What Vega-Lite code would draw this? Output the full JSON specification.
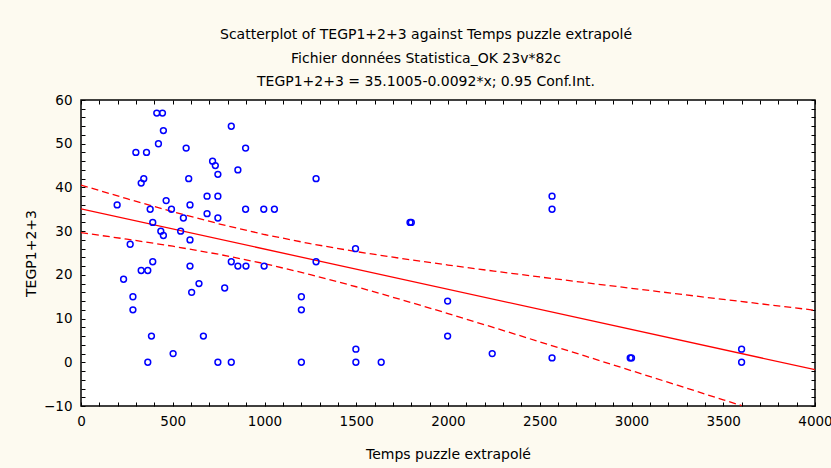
{
  "$schema": "https://vega.github.io/schema/vega-lite/v6.json",
  "width": 734,
  "height": 306,
  "autosize": "none",
  "padding": {"left": 81, "top": 100, "right": 16, "bottom": 62},
  "background": "#FDFAF0",
  "config": {
    "font": "DejaVu Sans",
    "view": {"fill": "white", "stroke": "black", "strokeWidth": 1.5},
    "axis": {"labelFont": "DejaVu Sans", "titleFont": "DejaVu Sans", "labelFontSize": 13.5, "titleFontSize": 14, "titleFontWeight": "normal", "labelColor": "black", "titleColor": "black", "domain": false, "tickColor": "black", "gridColor": "#D8D8D8", "gridWidth": 1.5}
  },
  "title": {
    "text": ["Scatterplot of TEGP1+2+3 against Temps puzzle extrapolé", "Fichier données Statistica_OK 23v*82c", "TEGP1+2+3 = 35.1005-0.0092*x; 0.95 Conf.Int."],
    "font": "DejaVu Sans",
    "fontSize": 14,
    "fontWeight": "normal",
    "color": "black",
    "lineHeight": 23.5,
    "anchor": "middle",
    "dx": -22,
    "offset": 4
  },
  "datasets": {
    "pts": [
      {"t": 413, "v": 57}, {"t": 444, "v": 57}, {"t": 449, "v": 53}, {"t": 819, "v": 54}, {"t": 422, "v": 50},
      {"t": 573, "v": 49}, {"t": 897, "v": 49}, {"t": 299, "v": 48}, {"t": 357, "v": 48}, {"t": 717, "v": 46},
      {"t": 732, "v": 45}, {"t": 855, "v": 44}, {"t": 746, "v": 43}, {"t": 342, "v": 42}, {"t": 328, "v": 41},
      {"t": 587, "v": 42}, {"t": 687, "v": 38}, {"t": 746, "v": 38}, {"t": 197, "v": 36}, {"t": 464, "v": 37},
      {"t": 594, "v": 36}, {"t": 377, "v": 35}, {"t": 493, "v": 35}, {"t": 897, "v": 35}, {"t": 996, "v": 35},
      {"t": 1054, "v": 35}, {"t": 391, "v": 32}, {"t": 687, "v": 34}, {"t": 746, "v": 33}, {"t": 558, "v": 33},
      {"t": 435, "v": 30}, {"t": 449, "v": 29}, {"t": 543, "v": 30}, {"t": 594, "v": 28}, {"t": 268, "v": 27},
      {"t": 391, "v": 23}, {"t": 328, "v": 21}, {"t": 364, "v": 21}, {"t": 232, "v": 19}, {"t": 283, "v": 15},
      {"t": 283, "v": 12}, {"t": 594, "v": 22}, {"t": 819, "v": 23}, {"t": 855, "v": 22}, {"t": 899, "v": 22},
      {"t": 998, "v": 22}, {"t": 643, "v": 18}, {"t": 603, "v": 16}, {"t": 783, "v": 17}, {"t": 384, "v": 6},
      {"t": 667, "v": 6}, {"t": 502, "v": 2}, {"t": 364, "v": 0}, {"t": 746, "v": 0}, {"t": 819, "v": 0},
      {"t": 1281, "v": 42}, {"t": 1793, "v": 32}, {"t": 1800, "v": 32}, {"t": 1496, "v": 26},
      {"t": 1281, "v": 23}, {"t": 1201, "v": 15}, {"t": 1201, "v": 12}, {"t": 1998, "v": 14}, {"t": 1998, "v": 6},
      {"t": 1498, "v": 3}, {"t": 1201, "v": 0}, {"t": 1498, "v": 0}, {"t": 1636, "v": 0},
      {"t": 2567, "v": 38}, {"t": 2567, "v": 35}, {"t": 2241, "v": 2}, {"t": 2567, "v": 1}, {"t": 2993, "v": 1},
      {"t": 3000, "v": 1}, {"t": 3600, "v": 3}, {"t": 3600, "v": 0}
    ],
    "fit": [
      {"t": 0, "v": 35.1005}, {"t": 4000, "v": -1.6995}
    ],
    "band": [
      {"t": 0, "b": "upper", "v": 40.55}, {"t": 250, "b": "upper", "v": 37.43}, {"t": 500, "b": "upper", "v": 34.45},
      {"t": 750, "b": "upper", "v": 31.69}, {"t": 1000, "b": "upper", "v": 29.23}, {"t": 1250, "b": "upper", "v": 27.13},
      {"t": 1500, "b": "upper", "v": 25.32}, {"t": 1750, "b": "upper", "v": 23.72}, {"t": 2000, "b": "upper", "v": 22.25},
      {"t": 2250, "b": "upper", "v": 20.86}, {"t": 2500, "b": "upper", "v": 19.52}, {"t": 2750, "b": "upper", "v": 18.21},
      {"t": 3000, "b": "upper", "v": 16.92}, {"t": 3250, "b": "upper", "v": 15.65}, {"t": 3500, "b": "upper", "v": 14.39},
      {"t": 3750, "b": "upper", "v": 13.15}, {"t": 4000, "b": "upper", "v": 11.9},
      {"t": 0, "b": "lower", "v": 29.65}, {"t": 250, "b": "lower", "v": 28.17}, {"t": 500, "b": "lower", "v": 26.55},
      {"t": 750, "b": "lower", "v": 24.71}, {"t": 1000, "b": "lower", "v": 22.57}, {"t": 1250, "b": "lower", "v": 20.07},
      {"t": 1500, "b": "lower", "v": 17.28}, {"t": 1750, "b": "lower", "v": 14.28}, {"t": 2000, "b": "lower", "v": 11.15},
      {"t": 2250, "b": "lower", "v": 7.94}, {"t": 2500, "b": "lower", "v": 4.68}, {"t": 2750, "b": "lower", "v": 1.39},
      {"t": 3000, "b": "lower", "v": -1.92}, {"t": 3250, "b": "lower", "v": -5.25}, {"t": 3500, "b": "lower", "v": -8.59},
      {"t": 3600, "b": "lower", "v": -9.9}
    ]
  },
  "layer": [
    {
      "data": {"name": "band"},
      "mark": {"type": "line", "color": "#FF0000", "strokeWidth": 1.3, "strokeDash": [7, 4], "clip": true},
      "encoding": {
        "x": {"field": "t", "type": "quantitative", "scale": {"domain": [0, 4000], "nice": false}, "axis": null},
        "y": {"field": "v", "type": "quantitative", "scale": {"domain": [-10, 60], "nice": false}, "axis": null},
        "detail": {"field": "b"}
      }
    },
    {
      "data": {"name": "fit"},
      "mark": {"type": "line", "color": "#FF0000", "strokeWidth": 1.3, "clip": true},
      "encoding": {
        "x": {"field": "t", "type": "quantitative", "axis": {"orient": "top", "values": [0,100,200,300,400,500,600,700,800,900,1000,1100,1200,1300,1400,1500,1600,1700,1800,1900,2000,2100,2200,2300,2400,2500,2600,2700,2800,2900,3000,3100,3200,3300,3400,3500,3600,3700,3800,3900,4000], "labels": false, "grid": false, "tickSize": -4, "title": null}},
        "y": {"field": "v", "type": "quantitative", "axis": {"orient": "right", "values": [-10,-8,-6,-4,-2,0,2,4,6,8,10,12,14,16,18,20,22,24,26,28,30,32,34,36,38,40,42,44,46,48,50,52,54,56,58,60], "labels": false, "grid": false, "tickSize": -4, "title": null}}
      }
    },
    {
      "data": {"name": "pts"},
      "mark": {"type": "point", "shape": "circle", "filled": false, "color": "#0000FF", "opacity": 1, "size": 34, "strokeWidth": 1.5},
      "encoding": {
        "x": {"field": "t", "type": "quantitative", "axis": {"orient": "bottom", "title": "Temps puzzle extrapolé", "titlePadding": 20, "values": [0,100,200,300,400,500,600,700,800,900,1000,1100,1200,1300,1400,1500,1600,1700,1800,1900,2000,2100,2200,2300,2400,2500,2600,2700,2800,2900,3000,3100,3200,3300,3400,3500,3600,3700,3800,3900,4000], "labelExpr": "datum.value % 500 === 0 ? datum.label : ''", "format": "d", "gridOpacity": {"condition": {"test": "datum.value % 500 === 0 && datum.value > 0 && datum.value < 4000", "value": 1}, "value": 0}, "tickSize": -4, "labelPadding": 12, "labelFlush": false}},
        "y": {"field": "v", "type": "quantitative", "axis": {"orient": "left", "title": "TEGP1+2+3", "titlePadding": 5, "values": [-10,-8,-6,-4,-2,0,2,4,6,8,10,12,14,16,18,20,22,24,26,28,30,32,34,36,38,40,42,44,46,48,50,52,54,56,58,60], "labelExpr": "datum.value % 10 === 0 ? datum.label : ''", "gridOpacity": {"condition": {"test": "datum.value % 10 === 0 && datum.value > -10 && datum.value < 60", "value": 1}, "value": 0}, "tickSize": -4, "labelPadding": 13}}
      }
    }
  ],
  "resolve": {"axis": {"x": "independent", "y": "independent"}}
}
